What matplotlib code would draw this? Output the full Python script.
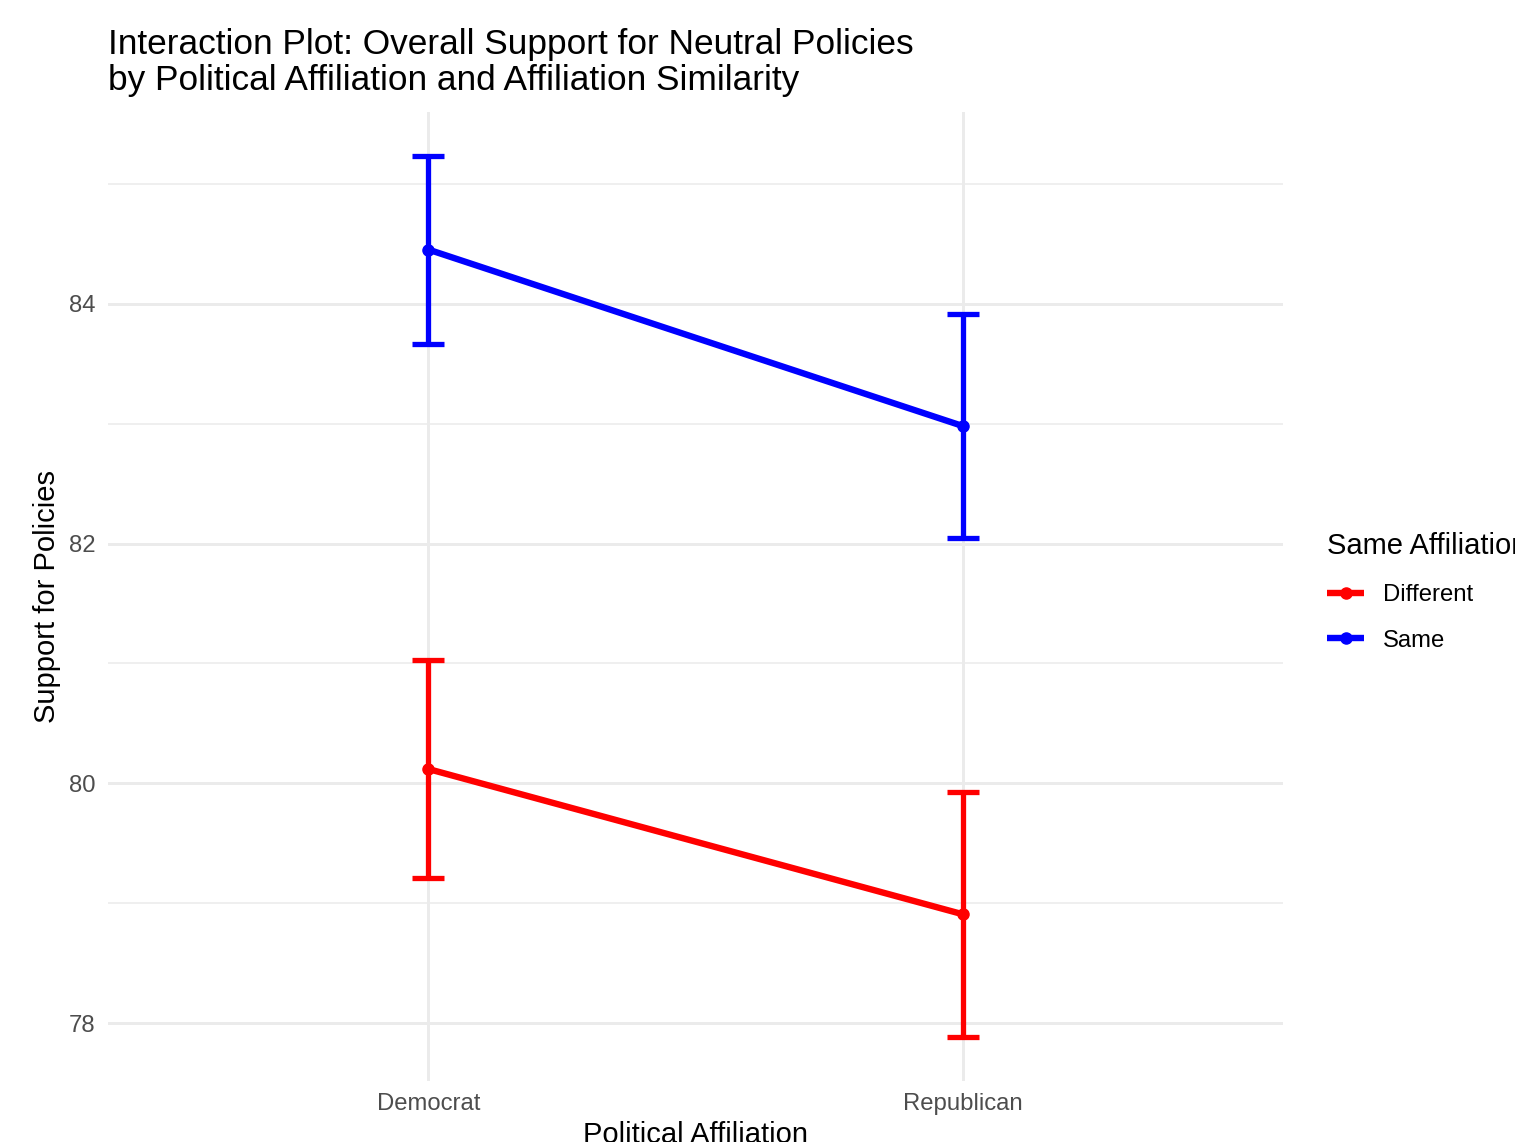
import matplotlib
matplotlib.use("Agg")
import matplotlib.pyplot as plt
import numpy as np

# Group means with lower/upper error limits
parties = ["Democrat", "Republican"]
groups = ["Different", "Same"]
colors = ["#FF0000", "#0000FF"]

different_mean = [80.12, 78.91]
different_lower = [79.21, 77.89]
different_upper = [81.03, 79.93]

same_mean = [84.45, 82.98]
same_lower = [83.66, 82.05]
same_upper = [85.23, 83.91]

y_major = [78, 80, 82, 84]
y_minor = [79, 81, 83, 85]

plt.rcParams['font.family'] = ['Liberation Sans', 'DejaVu Sans']

W, H = 1515, 1142
fig = plt.figure(figsize=(W / 100, H / 100), dpi=100)
fig.patch.set_facecolor("white")
ax = fig.add_axes([108 / W, 1 - 1080.6 / H, (1283 - 108) / W, (1080.6 - 112) / H])

x = np.arange(1, len(parties) + 1)
series = [
    (groups[0], different_mean, different_lower, different_upper, colors[0]),
    (groups[1], same_mean, same_lower, same_upper, colors[1]),
]

all_lo, all_hi = [], []
for label, mean, lo, hi, color in series:
    mean = np.asarray(mean)
    lo = np.asarray(lo)
    hi = np.asarray(hi)
    all_lo.extend(lo)
    all_hi.extend(hi)
    ax.plot(x, mean, color=color, lw=4.6, marker="o", ms=8, label=label,
            solid_capstyle="butt", zorder=3)
    ax.errorbar(x, mean, yerr=[mean - lo, hi - mean], fmt="none", ecolor=color,
                elinewidth=3.8, capsize=11.5, capthick=3.8, zorder=3)

# Axis ranges with a small margin around the data
ymin, ymax = min(all_lo), max(all_hi)
span = ymax - ymin
ax.set_ylim(ymin - 0.05 * span, ymax + 0.05 * span)
ax.set_xlim(0.4, len(parties) + 0.6)

ax.set_xticks(x)
ax.set_xticklabels(parties)
ax.set_yticks(y_major)
ax.set_yticks(y_minor, minor=True)
ax.set_xticks([], minor=True)

ax.set_axisbelow(True)
ax.grid(which="major", color="#EBEBEB", lw=2.1)
ax.grid(which="minor", axis="y", color="#EBEBEB", lw=1.1)
for s in ax.spines.values():
    s.set_visible(False)
ax.tick_params(which="both", length=0)
ax.tick_params(axis="both", which="major", labelsize=17.2, labelcolor="#4D4D4D", pad=9.0)

ax.set_xlabel("Political Affiliation", fontsize=21)
ax.set_ylabel("Support for Policies", fontsize=21)
ax.xaxis.set_label_coords(0.5, -0.042)
ax.yaxis.set_label_coords(-0.040, 0.5)

fig.text(108 / W, 1 - 28 / H,
         "Interaction Plot: Overall Support for Neutral Policies\n"
         "by Political Affiliation and Affiliation Similarity",
         fontsize=25.4, ha="left", va="top", linespacing=1.13)

ax.legend(title="Same Affiliation", loc="upper left",
          bbox_to_anchor=(1327 / W, 1 - 532 / H), bbox_transform=fig.transFigure,
          frameon=False, fontsize=17.2, title_fontsize=21, handlelength=1.55,
          handletextpad=0.8, labelspacing=1.0, alignment="left",
          borderpad=0, borderaxespad=0)

fig.savefig("out.png", dpi=100)
